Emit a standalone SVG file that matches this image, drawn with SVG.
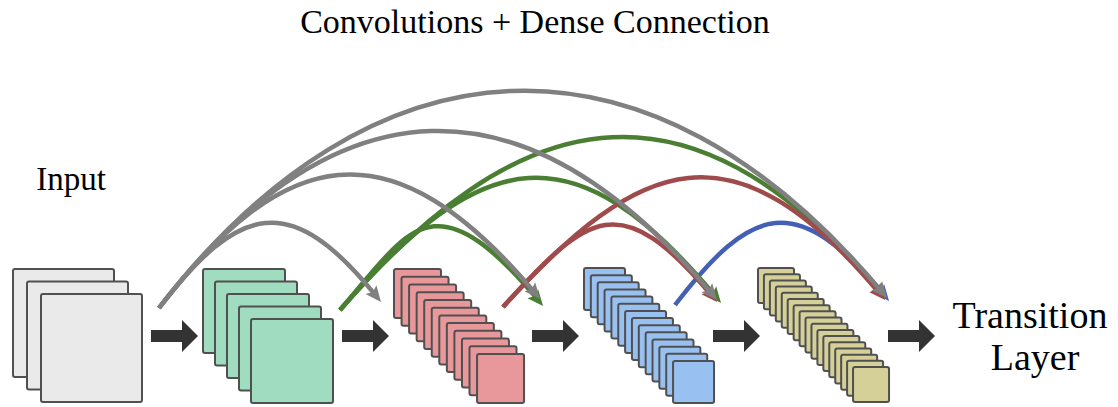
<svg xmlns="http://www.w3.org/2000/svg" width="1118" height="407" viewBox="0 0 1118 407">
<style>
.t{font-family:"Liberation Serif","Times New Roman",serif;fill:#000}
.sq{stroke:#505050;stroke-width:2}
.in{fill:#EAEAEA}
.gr{fill:#A0DCC0}
.rd{fill:#E8989A}
.bl{fill:#98C0F0}
.yl{fill:#D4D098}
.blk{fill:#333333}
.c{fill:none;stroke-width:4.5}
.cg{stroke:#808080}
.cgr{stroke:#4A7F33}
.cr{stroke:#A04B4B}
.cb{stroke:#4460B6}
</style>
<defs>
<marker id="mg" markerUnits="userSpaceOnUse" markerWidth="18" markerHeight="16" refX="10" refY="7" orient="auto" overflow="visible"><path d="M0,0 L16,7 L0,14 L3,7 z" fill="#808080"/></marker>
<marker id="mgr" markerUnits="userSpaceOnUse" markerWidth="18" markerHeight="16" refX="10" refY="7" orient="auto" overflow="visible"><path d="M0,0 L16,7 L0,14 L3,7 z" fill="#4A7F33"/></marker>
<marker id="mr" markerUnits="userSpaceOnUse" markerWidth="18" markerHeight="16" refX="10" refY="7" orient="auto" overflow="visible"><path d="M0,0 L16,7 L0,14 L3,7 z" fill="#A04B4B"/></marker>
<marker id="mb" markerUnits="userSpaceOnUse" markerWidth="18" markerHeight="16" refX="10" refY="7" orient="auto" overflow="visible"><path d="M0,0 L16,7 L0,14 L3,7 z" fill="#4460B6"/></marker>
</defs>
<rect width="1118" height="407" fill="#fff"/>
<text class="t" x="535" y="33" font-size="34" text-anchor="middle">Convolutions + Dense Connection</text>
<g id="input">
<text class="t" x="71" y="190" font-size="33" text-anchor="middle">Input</text>
<rect class="sq in" x="13" y="269" width="101" height="108" rx="2"/>
<rect class="sq in" x="27" y="281.5" width="101" height="108" rx="2"/>
<rect class="sq in" x="41" y="294" width="101" height="108" rx="2"/>
</g>
<g id="block1">
<rect class="sq gr" x="203" y="269" width="82" height="84" rx="2"/>
<rect class="sq gr" x="215" y="281.5" width="82" height="84" rx="2"/>
<rect class="sq gr" x="227" y="294" width="82" height="84" rx="2"/>
<rect class="sq gr" x="239" y="306.5" width="82" height="84" rx="2"/>
<rect class="sq gr" x="251" y="319" width="82" height="84" rx="2"/>
</g>
<g id="block2">
<rect class="sq rd" x="394" y="269" width="47" height="49" rx="2"/>
<rect class="sq rd" x="401.55" y="276.73" width="47" height="49" rx="2"/>
<rect class="sq rd" x="409.1" y="284.46" width="47" height="49" rx="2"/>
<rect class="sq rd" x="416.65" y="292.19" width="47" height="49" rx="2"/>
<rect class="sq rd" x="424.2" y="299.92" width="47" height="49" rx="2"/>
<rect class="sq rd" x="431.75" y="307.65" width="47" height="49" rx="2"/>
<rect class="sq rd" x="439.3" y="315.38" width="47" height="49" rx="2"/>
<rect class="sq rd" x="446.85" y="323.11" width="47" height="49" rx="2"/>
<rect class="sq rd" x="454.4" y="330.84" width="47" height="49" rx="2"/>
<rect class="sq rd" x="461.95" y="338.57" width="47" height="49" rx="2"/>
<rect class="sq rd" x="469.5" y="346.3" width="47" height="49" rx="2"/>
<rect class="sq rd" x="477.05" y="354.03" width="47" height="49" rx="2"/>
</g>
<g id="block3">
<rect class="sq bl" x="584" y="268" width="41" height="42" rx="2"/>
<rect class="sq bl" x="590.85" y="275.15" width="41" height="42" rx="2"/>
<rect class="sq bl" x="597.7" y="282.3" width="41" height="42" rx="2"/>
<rect class="sq bl" x="604.55" y="289.45" width="41" height="42" rx="2"/>
<rect class="sq bl" x="611.4" y="296.6" width="41" height="42" rx="2"/>
<rect class="sq bl" x="618.25" y="303.75" width="41" height="42" rx="2"/>
<rect class="sq bl" x="625.1" y="310.9" width="41" height="42" rx="2"/>
<rect class="sq bl" x="631.95" y="318.05" width="41" height="42" rx="2"/>
<rect class="sq bl" x="638.8" y="325.2" width="41" height="42" rx="2"/>
<rect class="sq bl" x="645.65" y="332.35" width="41" height="42" rx="2"/>
<rect class="sq bl" x="652.5" y="339.5" width="41" height="42" rx="2"/>
<rect class="sq bl" x="659.35" y="346.65" width="41" height="42" rx="2"/>
<rect class="sq bl" x="666.2" y="353.8" width="41" height="42" rx="2"/>
<rect class="sq bl" x="673.05" y="360.95" width="41" height="42" rx="2"/>
</g>
<g id="block4">
<rect class="sq yl" x="758" y="268" width="36" height="35" rx="2"/>
<rect class="sq yl" x="763.94" y="274.19" width="36" height="35" rx="2"/>
<rect class="sq yl" x="769.88" y="280.38" width="36" height="35" rx="2"/>
<rect class="sq yl" x="775.82" y="286.57" width="36" height="35" rx="2"/>
<rect class="sq yl" x="781.76" y="292.76" width="36" height="35" rx="2"/>
<rect class="sq yl" x="787.7" y="298.95" width="36" height="35" rx="2"/>
<rect class="sq yl" x="793.64" y="305.14" width="36" height="35" rx="2"/>
<rect class="sq yl" x="799.58" y="311.33" width="36" height="35" rx="2"/>
<rect class="sq yl" x="805.52" y="317.52" width="36" height="35" rx="2"/>
<rect class="sq yl" x="811.46" y="323.71" width="36" height="35" rx="2"/>
<rect class="sq yl" x="817.4" y="329.9" width="36" height="35" rx="2"/>
<rect class="sq yl" x="823.34" y="336.09" width="36" height="35" rx="2"/>
<rect class="sq yl" x="829.28" y="342.28" width="36" height="35" rx="2"/>
<rect class="sq yl" x="835.22" y="348.47" width="36" height="35" rx="2"/>
<rect class="sq yl" x="841.16" y="354.66" width="36" height="35" rx="2"/>
<rect class="sq yl" x="847.1" y="360.85" width="36" height="35" rx="2"/>
<rect class="sq yl" x="853.04" y="367.04" width="36" height="35" rx="2"/>
</g>
<g id="transition">
<text class="t" x="1030" y="328" font-size="38" text-anchor="middle">Transition</text>
<text class="t" x="1035" y="370" font-size="38" text-anchor="middle">Layer</text>
</g>
<g id="connectors">
<polygon class="blk" points="151,330 182,330 182,320 198,336 182,352 182,342 151,342"/>
<polygon class="blk" points="342,330 373,330 373,320 389,336 373,352 373,342 342,342"/>
<polygon class="blk" points="532,330 563,330 563,320 579,336 563,352 563,342 532,342"/>
<polygon class="blk" points="713,330 744,330 744,320 760,336 744,352 744,342 713,342"/>
<polygon class="blk" points="888,330 919,330 919,320 935,336 919,352 919,342 888,342"/>
<path class="c cb" marker-end="url(#mb)" d="M675,305 C751.8,205.2 795.7,189.1 885.2,296.4"/>
<path class="c cgr" marker-end="url(#mgr)" d="M340,310 C408.7,231 432.4,173.3 539.2,301.4"/>
<path class="c cgr" marker-end="url(#mgr)" d="M340,310 C482.9,145.7 573.6,126.2 717.2,298.4"/>
<path class="c cgr" marker-end="url(#mgr)" d="M340,310 C513,111 683.1,55.6 882.2,294.4"/>
<path class="c cr" marker-end="url(#mr)" d="M503,307 C588.7,212.7 620.1,185.8 713.2,297.4"/>
<path class="c cr" marker-end="url(#mr)" d="M503,307 C640.6,155.6 733.5,118.2 881.2,295.4"/>
<path class="c cg" marker-end="url(#mg)" d="M159,308 C238.7,204.4 290.1,188.6 377.2,297.4"/>
<path class="c cg" marker-end="url(#mg)" d="M159,308 C281.8,148.4 388.7,117.5 536.2,294.4"/>
<path class="c cg" marker-end="url(#mg)" d="M159,308 C335,79.2 524.5,69 713.2,295.4"/>
<path class="c cg" marker-end="url(#mg)" d="M159,308 C370.2,33.4 645.9,8.7 883.2,293.4"/>
</g>
</svg>
